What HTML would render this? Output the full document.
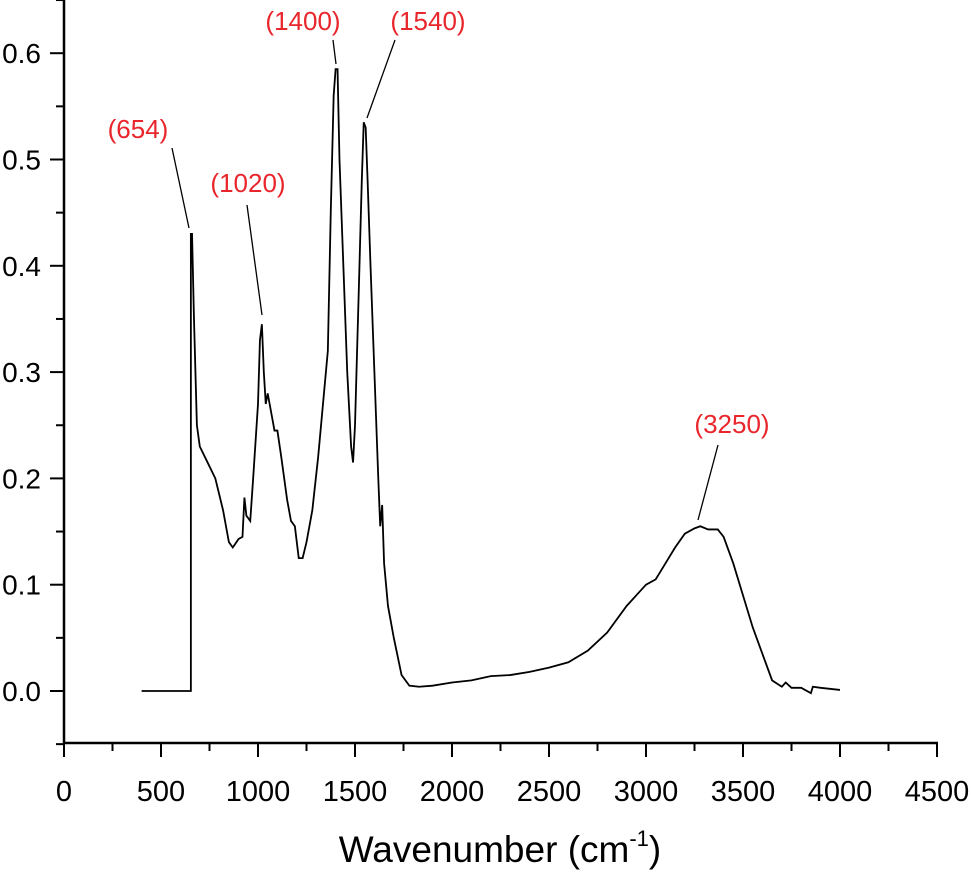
<!DOCTYPE html>
<html><head><meta charset="utf-8"><style>
body{margin:0;background:#fff}
svg text{font-family:"Liberation Sans",Arial,sans-serif}
</style></head><body>
<svg id="c" width="971" height="870" xmlns="http://www.w3.org/2000/svg"></svg>
<script>
const wavenumbers=[400,654,654,660,670,685,700,740,780,820,850,870,900,920,930,940,960,975,1000,1010,1020,1030,1040,1050,1070,1085,1100,1120,1150,1170,1190,1210,1230,1250,1280,1310,1340,1360,1375,1390,1400,1410,1420,1440,1460,1480,1490,1500,1520,1535,1545,1555,1565,1580,1600,1620,1630,1640,1650,1670,1700,1740,1780,1830,1900,2000,2100,2200,2300,2400,2500,2600,2700,2800,2900,2950,3000,3050,3100,3150,3200,3250,3280,3320,3370,3400,3450,3500,3550,3600,3650,3700,3720,3750,3800,3850,3860,3900,4000];
const absorbance=[0,0,0.43,0.43,0.35,0.25,0.23,0.215,0.2,0.17,0.14,0.135,0.143,0.145,0.182,0.165,0.16,0.2,0.27,0.33,0.345,0.3,0.27,0.28,0.26,0.245,0.245,0.22,0.18,0.16,0.155,0.125,0.125,0.14,0.17,0.22,0.28,0.32,0.45,0.56,0.585,0.585,0.5,0.4,0.3,0.23,0.215,0.25,0.38,0.48,0.535,0.53,0.48,0.4,0.3,0.2,0.155,0.175,0.12,0.08,0.05,0.015,0.005,0.004,0.005,0.008,0.01,0.014,0.015,0.018,0.022,0.027,0.038,0.055,0.08,0.09,0.1,0.105,0.12,0.135,0.148,0.153,0.155,0.152,0.152,0.145,0.12,0.09,0.06,0.035,0.01,0.004,0.008,0.003,0.003,-0.002,0.004,0.003,0.001];
const xTicks=[0,500,1000,1500,2000,2500,3000,3500,4000,4500];
const yTicks=[0.0,0.1,0.2,0.3,0.4,0.5,0.6];
const peakLabels=["(654)","(1020)","(1400)","(1540)","(3250)"];

const svg=document.getElementById('c');const NS='http://www.w3.org/2000/svg';
const X=v=>64+v*(873/4500);
const Y=v=>691-v*1063;
function mk(t,a,p){const e=document.createElementNS(NS,t);for(const k in a)e.setAttribute(k,a[k]);(p||svg).appendChild(e);return e;}
let ax=mk('line',{x1:64,y1:0,x2:64,y2:744,stroke:'#000','stroke-width':2.5});


let bx=mk('line',{x1:63,y1:743,x2:938,y2:743,stroke:'#000','stroke-width':2.5});


for(let v=0;v<=4500;v+=250){const maj=v%500===0;mk('line',{x1:X(v),y1:743,x2:X(v),y2:743+(maj?14:8),stroke:'#000','stroke-width':2});}
xTicks.forEach(v=>{const t=mk('text',{x:X(v),y:801,'text-anchor':'middle','font-size':29});t.textContent=v;

});
for(let i=-1;i<=13;i++){const v=i*0.05;const maj=i%2===0&&i>=0;mk('line',{x1:64-(maj?14:8),y1:Y(v),x2:64,y2:Y(v),stroke:'#000','stroke-width':2});}
yTicks.forEach(v=>{const t=mk('text',{x:41,y:Y(v)+10,'text-anchor':'end','font-size':28});t.textContent=v.toFixed(1);

});
const tt=mk('text',{x:500,y:862,'text-anchor':'middle','font-size':37});
tt.innerHTML='Wavenumber (cm<tspan font-size="22" dy="-16">-1</tspan><tspan dy="16">)</tspan>';


const pl=mk('polyline',{points:wavenumbers.map((w,i)=>X(w)+','+Y(absorbance[i])).join(' '),fill:'none',stroke:'#000','stroke-width':1.8});


const lab=[[138,138,172,148,189,228],[248,192,247,205,262,315],[303,30,333,40,336,64],[428,30,395,40,367,118],[732,433,718,445,698,520]];
peakLabels.forEach((s,i)=>{const L=lab[i];
const t=mk('text',{x:L[0],y:L[1],'text-anchor':'middle','font-size':26,fill:'#e8262c'});t.textContent=s;


const l=mk('line',{x1:L[2],y1:L[3],x2:L[4],y2:L[5],stroke:'#000','stroke-width':1.3});

});
</script>
</body></html>
